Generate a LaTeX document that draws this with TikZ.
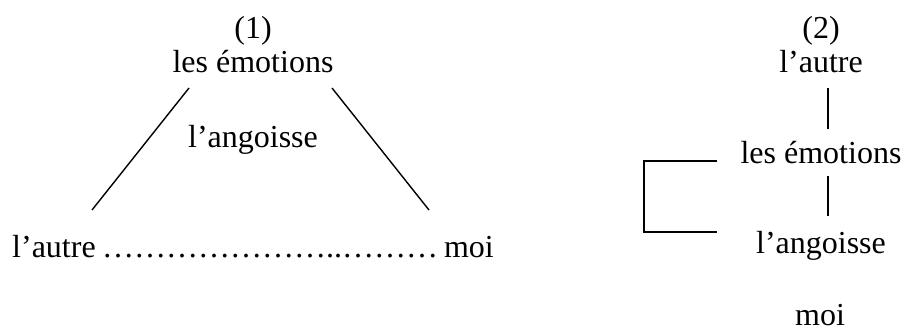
\documentclass[tikz,border=0pt]{standalone}
\usepackage{fontspec}
\setmainfont{Liberation Serif}
\begin{document}
\begin{tikzpicture}[x=1pt,y=-1pt,
  lbl/.style={inner sep=0pt,anchor=base,font=\fontsize{32}{38}\selectfont},
  link/.style={line width=1.4pt}]
\useasboundingbox (0,0) rectangle (904,329);

% first diagram: triangle
\node[lbl] (n1) at (253,38) {(1)};
\node[lbl] (emo1) at (253,73) {les émotions};
\node[lbl] (ang1) at (253,147) {l’angoisse};
\node[lbl,anchor=base west] (aut1) at (12,257) {l’autre};
\node[lbl,anchor=base west] (dots) at (102,257) {…………………..………};
\node[lbl,anchor=base east] (moi1) at (494,257) {moi};

\coordinate (e1l) at (189,88);
\coordinate (a1t) at (92,210);
\coordinate (e1r) at (332,88);
\coordinate (m1t) at (429,210);
\draw[link] (e1l) -- (a1t);
\draw[link] (e1r) -- (m1t);

% second diagram: vertical chain
\node[lbl] (n2) at (821,38) {(2)};
\node[lbl] (aut2) at (821,73) {l’autre};
\node[lbl] (emo2) at (821,163) {les émotions};
\node[lbl] (ang2) at (821,253) {l’angoisse};
\node[lbl] (moi2) at (820,325) {moi};

\coordinate (v1a) at (828,88);
\coordinate (v1b) at (828,129);
\coordinate (v2a) at (828,176);
\coordinate (v2b) at (828,216);
\draw[link] (v1a) -- (v1b);
\draw[link] (v2a) -- (v2b);

\coordinate (bt) at (717,161);
\coordinate (bb) at (717,232);
\draw[link] (bt) -- (644,161) -- (644,232) -- (bb);
\end{tikzpicture}
\end{document}
